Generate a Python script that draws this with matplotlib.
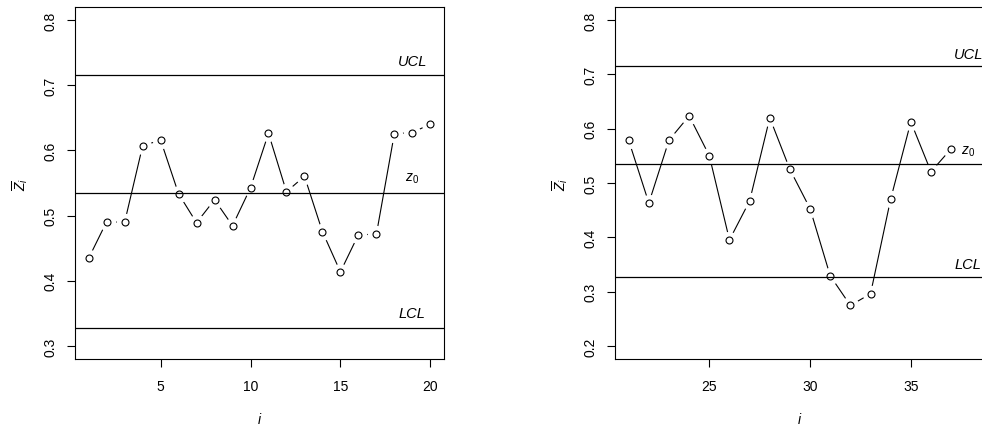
import matplotlib.pyplot as plt
import numpy as np

plt.rcParams['font.family'] = ['Liberation Sans', 'DejaVu Sans']
plt.rcParams['mathtext.fontset'] = 'custom'
plt.rcParams['mathtext.it'] = 'Liberation Sans:italic'
plt.rcParams['mathtext.rm'] = 'Liberation Sans'

# chart values
i_left = np.arange(1, 21)
z_left = [0.4346, 0.4906, 0.4896, 0.6068, 0.6160, 0.5334, 0.4890, 0.5243, 0.4845, 0.5426,
          0.6262, 0.5365, 0.5604, 0.4753, 0.4137, 0.4707, 0.4713, 0.6257, 0.6272, 0.6405]
i_right = np.arange(21, 38)
z_right = [0.5783, 0.4632, 0.5789, 0.6236, 0.5502, 0.3952, 0.4669, 0.6200, 0.5250, 0.4528,
           0.3291, 0.2746, 0.2960, 0.4705, 0.6126, 0.5208, 0.5630]
ucl = 0.715
center = 0.535
lcl = 0.327

fig = plt.figure(figsize=(9.82, 4.27), dpi=100)
W, H = 982, 427

def panel(box, x, y, xlim, ylim, yticks, xticks, lab_x):
    l, r, t, b = box
    ax = fig.add_axes([l / W, 1 - b / H, (r - l) / W, (b - t) / H])
    # line with gaps around points (R type = "b")
    ax.plot(x, y, color='black', lw=0.8, zorder=1)
    ax.plot(x, y, 'o', ms=12.5, mfc='white', mec='none', zorder=2)
    for v in (ucl, center, lcl):
        ax.axhline(v, color='black', lw=0.9, zorder=3)
    ax.plot(x, y, 'o', ms=5, mfc='none', mec='black', mew=0.8, zorder=4, clip_on=False)
    ax.set_xlim(*xlim)
    ax.set_ylim(*ylim)
    ax.set_yticks(yticks)
    ax.set_yticklabels([f'{v:.1f}' for v in yticks], rotation=90, va='center')
    ax.set_xticks(xticks)
    ax.tick_params(length=5.5, width=0.8, labelsize=10, pad=7)
    ax.tick_params(axis='x', pad=9)
    for s in ax.spines.values():
        s.set_linewidth(0.8)
    ax.set_xlabel('$i$', fontsize=10, labelpad=13)
    ax.set_ylabel(r'$\overline{Z}_i$', fontsize=10, labelpad=10)
    ax.text(lab_x, 0.737, 'UCL', style='italic', fontsize=10.5, ha='center', va='center')
    ax.text(lab_x, 0.351, 'LCL', style='italic', fontsize=10.5, ha='center', va='center')
    return ax

ax1 = panel((75, 444, 8, 360), i_left, z_left, (0.24, 20.76), (0.28, 0.82),
            [0.3, 0.4, 0.5, 0.6, 0.7, 0.8], [5, 10, 15, 20], 19.0)
ax1.text(19.0, 0.558, '$z_0$', fontsize=10, ha='center', va='center')

ax2 = panel((615, 985, 8, 360), i_right, z_right, (20.32, 38.68), (0.176, 0.824),
            [0.2, 0.3, 0.4, 0.5, 0.6, 0.7, 0.8], [25, 30, 35], 37.85)
ax2.text(37.85, 0.56, '$z_0$', fontsize=10, ha='center', va='center')

fig.savefig('out.png', dpi=100)
